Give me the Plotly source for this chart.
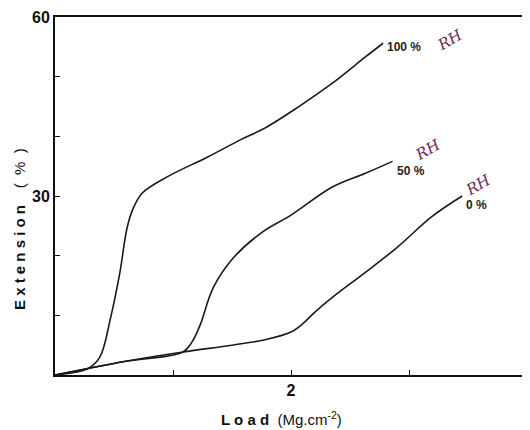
import plotly.graph_objects as go

# Load (Mg.cm-2) vs Extension (%) for three relative humidities
rh0_load = [0.0, 0.28, 0.6, 1.085, 1.5, 1.78, 2.0, 2.1, 2.2, 2.35, 2.63, 2.9, 3.19, 3.45]
rh0_ext = [0.0, 1.1, 2.3, 3.85, 5.0, 5.9, 7.2, 8.6, 10.5, 13.0, 17.2, 21.4, 26.5, 30.0]

rh50_load = [0.0, 0.28, 0.6, 1.085, 1.16, 1.23, 1.34, 1.51, 1.76, 2.0, 2.35, 2.63, 2.86]
rh50_ext = [0.0, 1.1, 2.3, 3.85, 5.5, 8.4, 14.6, 19.6, 24.0, 26.8, 31.5, 33.8, 35.8]

rh100_load = [0.0, 0.28, 0.38, 0.47, 0.55, 0.61, 0.66, 0.74, 0.95, 1.29, 1.57, 1.78, 2.06, 2.35, 2.63, 2.78]
rh100_ext = [0.0, 1.1, 3.0, 9.5, 17.2, 24.6, 27.8, 30.5, 33.2, 36.5, 39.4, 41.4, 44.9, 48.9, 53.3, 55.6]

series_labels = ["100 %", "50 %", "0 %"]

x_tickvals = [1, 2, 3, 4]
x_ticktext = ["", "2", "", "4"]
y_tickvals = [10, 20, 30, 40, 50, 60]
y_ticktext = ["", "", "30", "", "", "60"]

fig = go.Figure()
for xs, ys in [(rh0_load, rh0_ext), (rh50_load, rh50_ext), (rh100_load, rh100_ext)]:
    fig.add_trace(go.Scatter(x=xs, y=ys, mode="lines",
                             line=dict(color="#1a1a1a", width=1.6, shape="spline", smoothing=1.0),
                             showlegend=False, hoverinfo="skip"))

ends = [(rh100_load[-1], rh100_ext[-1], -4, (67, 3)),
        (rh50_load[-1], rh50_ext[-1], -10, (35, 11)),
        (rh0_load[-1], rh0_ext[-1], -9, (16, 11))]
for (ex, ey, ys, rhoff), lab in zip(ends, series_labels):
    fig.add_annotation(x=ex, y=ey, text=lab, showarrow=False,
                       xanchor="left", yanchor="middle", xshift=2, yshift=ys,
                       font=dict(family="Liberation Sans", size=12, color="#222", weight="bold"))
    fig.add_annotation(x=ex, y=ey, text="<i>RH</i>", showarrow=False,
                       xanchor="center", yanchor="middle", xshift=rhoff[0], yshift=rhoff[1],
                       textangle=-30,
                       font=dict(family="DejaVu Serif", size=15, color="#6a2a55"))

fig.add_annotation(x=(281 - 55) / 475, y=(375 - 418) / 358, xref="paper", yref="paper",
                   text="<b>L o a d</b>  (Mg.cm<sup>-2</sup>)", showarrow=False,
                   xanchor="center", yanchor="middle",
                   font=dict(family="Liberation Sans", size=15, color="#111"))
fig.add_annotation(x=(20 - 55) / 475, y=(375 - 229) / 358, xref="paper", yref="paper",
                   text="<b>E x t e n s i o n</b>    (  %  )", showarrow=False, textangle=-90,
                   xanchor="center", yanchor="middle",
                   font=dict(family="Liberation Sans", size=15, color="#111"))

fig.update_layout(
    width=522, height=422,
    margin=dict(l=47, r=0, t=9, b=55, autoexpand=False),
    paper_bgcolor="white", plot_bgcolor="white",
    font=dict(family="Liberation Sans", color="#111"),
    xaxis=dict(range=[0, 4.025], tickvals=x_tickvals, ticktext=x_ticktext,
               ticks="inside", ticklen=5, tickcolor="#111", showgrid=False, zeroline=False,
               showline=True, linecolor="#111", linewidth=2, mirror=True, automargin=False,
               ticklabeloverflow="allow",
               tickfont=dict(family="Liberation Sans", size=16, color="#111", weight="bold")),
    yaxis=dict(range=[0, 60], tickvals=y_tickvals, ticktext=y_ticktext,
               ticks="inside", ticklen=5, tickcolor="#111", showgrid=False, zeroline=False,
               showline=True, linecolor="#111", linewidth=2, automargin=False,
               tickfont=dict(family="Liberation Sans", size=16, color="#111", weight="bold")),
)
fig.write_html("out.html")
